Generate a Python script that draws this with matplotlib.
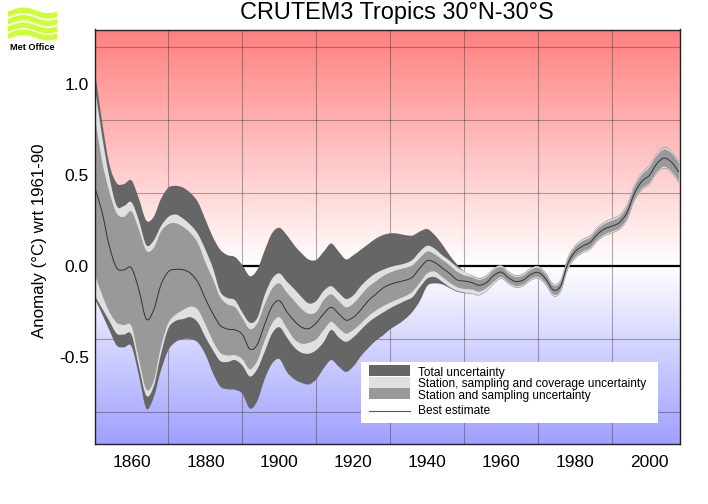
"""CRUTEM3 Tropics anomaly with uncertainty bands, Met Office style."""
import matplotlib

matplotlib.use("Agg")
import matplotlib.pyplot as plt
import numpy as np
from matplotlib.patches import PathPatch, Polygon, Rectangle
from matplotlib.path import Path

plt.rcParams["font.family"] = ["Liberation Sans", "DejaVu Sans"]

W, H = 708, 504

years = list(range(1850, 2010, 2))

total_upper = [1.085, .80, .56, .455, .45, .47, .37, .25, .27, .37, .43, .44, .43, .40, .35, .255,
               .16, .09, .06, .05, .005, -.055, -.02, .085, .18, .21, .17, .115, .07, .035,
               .035, .08, .124, .08, .037, .06, .09, .12, .15, .17, .18, .178, .17, .168, .19, .203,
               .17, .12, .06, .01, -.03, -.05, -.065, -.05, -.01, .005, -.03, -.05, -.04, -.01,
               0, -.035, -.095, -.075, .05, .115, .148, .168, .214, .244, .262, .282, .339, .447,
               .514, .552, .617, .652, .632, .577]
cov_upper = [1.0, .72, .49, .33, .33, .35, .25, .115, .14, .22, .27, .283, .26, .225, .175, .09,
             -.01, -.14, -.175, -.187, -.255, -.31, -.285, -.16, -.07, -.04, -.085, -.125, -.17, -.205,
             -.19, -.135, -.11, -.145, -.18, -.16, -.11, -.07, -.04, -.02, -.005, .005, .015, .035, .08, .112,
             .095, .06, .03, -.005, -.03, -.052, -.068, -.052, -.012, .002, -.032, -.052, -.042, -.012,
             -.002, -.037, -.097, -.077, .048, .113, .146, .166, .212, .242, .26, .28, .337, .445,
             .512, .55, .615, .65, .63, .575]
stat_upper = [.84, .58, .41, .29, .27, .30, .20, .085, .10, .19, .23, .235, .215, .18, .125, .02,
              -.07, -.17, -.21, -.225, -.285, -.345, -.315, -.21, -.125, -.095, -.145, -.19, -.235, -.262,
              -.25, -.185, -.155, -.19, -.226, -.205, -.16, -.115, -.085, -.055, -.035, -.02, -.01, .005, .045, .08,
              .065, .035, .005, -.03, -.05, -.06, -.075, -.06, -.02, -.005, -.04, -.06, -.05, -.02,
              -.01, -.045, -.105, -.085, .04, .105, .137, .157, .203, .233, .25, .27, .327, .435,
              .502, .54, .605, .64, .62, .565]
best = [.435, .30, .11, -.01, -.02, -.01, -.13, -.29, -.24, -.10, -.03, -.018, -.02, -.04, -.09, -.18,
        -.26, -.325, -.345, -.35, -.375, -.455, -.43, -.32, -.22, -.19, -.25, -.30, -.335, -.342,
        -.31, -.26, -.226, -.26, -.296, -.28, -.24, -.19, -.155, -.12, -.10, -.088, -.078, -.06, -.01, .03,
        .02, -.01, -.04, -.075, -.082, -.09, -.105, -.09, -.05, -.033, -.065, -.085, -.075, -.045,
        -.035, -.07, -.13, -.11, .015, .08, .11, .13, .175, .205, .22, .24, .295, .40,
        .465, .497, .56, .592, .57, .515]
stat_lower = [-.04, -.155, -.25, -.31, -.323, -.33, -.51, -.675, -.63, -.44, -.31, -.265, -.24, -.222, -.24, -.32,
              -.41, -.475, -.49, -.488, -.51, -.565, -.52, -.41, -.315, -.28, -.34, -.40, -.425, -.42,
              -.40, -.35, -.305, -.34, -.37, -.35, -.315, -.275, -.245, -.22, -.20, -.182, -.165, -.14, -.09, -.04,
              -.03, -.06, -.09, -.115, -.125, -.128, -.14, -.12, -.085, -.06, -.09, -.11, -.10, -.07,
              -.06, -.095, -.155, -.135, -.01, .05, .08, .10, .145, .175, .19, .21, .26, .365,
              .425, .455, .515, .545, .52, .465]
cov_lower = [-.16, -.23, -.30, -.37, -.375, -.375, -.55, -.71, -.66, -.48, -.34, -.30, -.29, -.28, -.31, -.39,
             -.46, -.52, -.525, -.515, -.545, -.605, -.565, -.47, -.37, -.335, -.39, -.445, -.475, -.48,
             -.46, -.415, -.35, -.39, -.415, -.39, -.35, -.31, -.28, -.255, -.23, -.21, -.19, -.17, -.115, -.068,
             -.06, -.085, -.115, -.135, -.145, -.15, -.158, -.135, -.095, -.067, -.097, -.117, -.107, -.077,
             -.067, -.102, -.162, -.142, -.017, .043, .073, .093, .138, .168, .183, .203, .253, .358,
             .418, .448, .508, .538, .513, .458]
total_lower = [-.175, -.26, -.35, -.435, -.445, -.44, -.60, -.78, -.72, -.57, -.46, -.415, -.40, -.40, -.42, -.485,
               -.585, -.66, -.675, -.678, -.70, -.78, -.74, -.62, -.535, -.51, -.58, -.62, -.64, -.648,
               -.62, -.56, -.515, -.55, -.58, -.55, -.495, -.45, -.41, -.38, -.345, -.32, -.29, -.25, -.19, -.108,
               -.095, -.10, -.12, -.14, -.148, -.152, -.16, -.137, -.097, -.069, -.099, -.119, -.109, -.079,
               -.069, -.104, -.164, -.144, -.019, .041, .071, .091, .136, .166, .181, .201, .251, .356,
               .416, .446, .506, .536, .511, .456]

x_ticks = [1860, 1880, 1900, 1920, 1940, 1960, 1980, 2000]
y_ticks = [-0.5, 0.0, 0.5, 1.0]
y_tick_labels = ["-0.5", "0.0", "0.5", "1.0"]
legend_labels = ["Total uncertainty", "Station, sampling and coverage uncertainty",
                 "Station and sampling uncertainty", "Best estimate"]

DARK, LIGHT, MID = "#666666", "#E0E0E0", "#999999"


def curve_segments(xs, ys):
    """Кривые Безье через точки ряда: сглаживает только отрисовку, не данные."""
    pts = np.c_[xs, ys]
    padded = np.r_[pts[:1], pts, pts[-1:]]
    verts, codes = [], []
    for i in range(1, len(padded) - 2):
        p0, p1, p2, p3 = padded[i - 1:i + 3]
        verts += [p1 + (p2 - p0) / 6, p2 - (p3 - p1) / 6, p2]
        codes += [Path.CURVE4] * 3
    return pts[0], verts, codes


def band(ax, lower, upper, color, zorder):
    start, v1, c1 = curve_segments(years, upper)
    end, v2, c2 = curve_segments(years[::-1], lower[::-1])
    verts = [start] + v1 + [end] + v2 + [start]
    codes = [Path.MOVETO] + c1 + [Path.LINETO] + c2 + [Path.CLOSEPOLY]
    ax.add_patch(PathPatch(Path(verts, codes), facecolor=color, edgecolor="none", zorder=zorder))


fig = plt.figure(figsize=(W / 100, H / 100), dpi=100)
ax = fig.add_axes([94.5 / W, 1 - 444 / H, 585.5 / W, 414.5 / H])
ax.set_xlim(1850, 2008.3)
ax.set_ylim(-0.975, 1.297)

# фон: красный сверху, белый на нуле, синий снизу
ymin, ymax = ax.get_ylim()
ys = np.linspace(ymax, ymin, 415)
grad = np.ones((415, 1, 3))
for i, v in enumerate(ys):
    if v > 0:
        t = v / ymax
        grad[i, 0] = [1, 1 - t * 0.5, 1 - t * 0.5]
    else:
        t = v / ymin
        grad[i, 0] = [1 - t * 0.375, 1 - t * 0.375, 1]
ax.imshow(grad, extent=[1850, 2008.3, ymin, ymax], aspect="auto", zorder=0)

ax.set_xticks(range(1860, 2010, 10), minor=True)
ax.set_yticks([-0.8, -0.4, 0.0, 0.4, 0.8, 1.2], minor=True)
ax.grid(which="minor", color="#222222", alpha=0.36, linewidth=0.8, zorder=1)
ax.axhline(0, color="black", linewidth=1.6, zorder=2)

band(ax, total_lower, total_upper, DARK, 3)
band(ax, cov_lower, cov_upper, LIGHT, 4)
band(ax, stat_lower, stat_upper, MID, 5)
start, v, c = curve_segments(years, best)
ax.add_patch(PathPatch(Path([start] + v, [Path.MOVETO] + c), facecolor="none",
                       edgecolor="#333333", linewidth=0.7, zorder=6))

ax.set_xticks(x_ticks)
ax.set_xticklabels([str(y) for y in x_ticks], fontsize=12.5)
ax.set_yticks(y_ticks)
ax.set_yticklabels(y_tick_labels, fontsize=12.5)
ax.tick_params(which="both", length=0)
ax.tick_params(axis="x", pad=8)
ax.tick_params(axis="y", pad=4)
for s in ax.spines.values():
    s.set_linewidth(1.0)
    s.set_color("#222222")
    s.set_zorder(8)

fig.text(396.5 / W, 1 - 13 / H, "CRUTEM3 Tropics 30°N-30°S", ha="center", va="center", fontsize=16.9)
fig.text(40 / W, 1 - 240.5 / H, "Anomaly (°C) wrt 1961-90", rotation=90, ha="center", va="center", fontsize=12.2)


# легенда вручную, в пикселях картинки
def px(x, y):
    return x / W, 1 - y / H


fig.add_artist(Rectangle(px(361, 423), 297 / W, 61 / H, facecolor="white", edgecolor="none", zorder=10))
for top, col in zip([365, 376.5, 387.5], [DARK, LIGHT, MID]):
    fig.add_artist(Rectangle(px(368.5, top + 11), 41.5 / W, 11 / H, facecolor=col, edgecolor="none", zorder=11))
fig.add_artist(plt.Line2D([368.5 / W, 410 / W], [1 - 410.5 / H] * 2, color="#555555", linewidth=0.8, zorder=11))
for yp, label in zip([373, 384, 396, 411], legend_labels):
    fig.text(417.5 / W, 1 - yp / H, label, fontsize=8.6, va="center", ha="left", zorder=12)

# логотип
lime = "#CCFF33"
for y0 in [13, 20.5, 28, 35]:
    xs = np.linspace(8, 57, 40)
    yc = y0 - 2.8 * np.sin((xs - 8) / 49 * 2 * np.pi * 1.0 - 0.4)
    poly = np.r_[np.c_[xs, yc - 2.7], np.c_[xs[::-1], yc[::-1] + 2.7]]
    fig.add_artist(Polygon([px(a, b) for a, b in poly], closed=True, facecolor=lime, edgecolor="none"))
fig.text(32 / W, 1 - 47.5 / H, "Met Office", fontsize=6.6, fontweight="bold", ha="center", va="center")

fig.savefig("out.png", dpi=100)
